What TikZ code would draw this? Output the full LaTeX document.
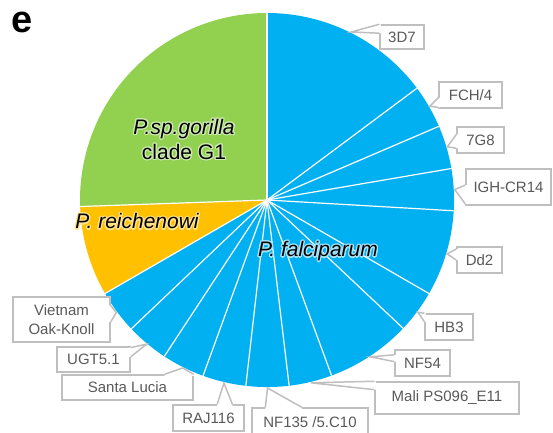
\documentclass[tikz,border=0pt]{standalone}
\usepackage{fontspec}
\setmainfont{Liberation Sans}
\usepackage{contour}
\usetikzlibrary{calc}

\definecolor{pieblue}{HTML}{00B0F0}
\definecolor{piegreen}{HTML}{92D050}
\definecolor{pieorange}{HTML}{FFC000}
\definecolor{boxline}{HTML}{BFBFBF}
\definecolor{boxtext}{HTML}{595959}

% soft halo round the labels in the pie
\contourlength{1.2pt}
\contournumber{16}

\tikzset{
  strainbox/.style={draw=boxline, line width=1.5pt, fill=white, text=boxtext,
    font=\fontsize{15}{19}\selectfont, inner sep=0pt, align=center},
  pielabel/.style={inner sep=0pt, align=center, font=\fontsize{21}{25}\selectfont}
}

% white wedge from the box (base points #1, #2) to the pie (#3), #4 pushes into the box
\newcommand{\pointer}[4]{%
  \fill[white] (#1) -- (#3) -- (#2) -- ($(#2)+(#4)$) -- ($(#1)+(#4)$) -- cycle;
  \draw[boxline, line width=1.5pt] (#1) -- (#3) -- (#2);}
\newcommand{\westpointer}[4]{%
  \coordinate (p1) at ($(#1.north west)!#2!(#1.south west)$);
  \coordinate (p2) at ($(#1.north west)!#3!(#1.south west)$);
  \pointer{p1}{p2}{#4}{1.6,0}}
\newcommand{\eastpointer}[4]{%
  \coordinate (p1) at ($(#1.north east)!#2!(#1.south east)$);
  \coordinate (p2) at ($(#1.north east)!#3!(#1.south east)$);
  \pointer{p1}{p2}{#4}{-1.6,0}}
\newcommand{\northpointer}[4]{%
  \coordinate (p1) at ($(#1.north west)!#2!(#1.north east)$);
  \coordinate (p2) at ($(#1.north west)!#3!(#1.north east)$);
  \pointer{p1}{p2}{#4}{0,-1.6}}

\begin{document}
\begin{tikzpicture}[x=1pt, y=1pt]
\useasboundingbox (0,0) rectangle (553,-432);
% centre of the pie
\coordinate (c) at (267,-200);
% slices
\foreach \a/\b/\col in {90/182/piegreen, 182/210/pieorange, 210/450/pieblue}
  \fill[\col] (c) -- ($(c)+(\a:187)$) arc[start angle=\a, end angle=\b, radius=187] -- cycle;
% white lines between the slices
\foreach \ang in {90,182,210,223.5,236.7,250,263.5,276.8,290.2,316.7,330,356.7,369.7,383.2,396.7}
  \draw[white, line width=1.2pt] (c) -- ($(c)+(\ang:187)$);
% points on the rim where the pointers end
\foreach \m/\n in {63.35/3d7, 29.95/fch, 16.45/7g8, 3.2/igh, -16.65/dd2, -36.65/hb3,
    -56.55/nf54, -76.5/mali, -89.85/nf135, -103.25/raj, -116.65/lucia, -129.9/ugt, -143.25/viet}
  \coordinate (tip-\n) at ($(c)+(\m:188)$);

% labels inside the pie
\node[pielabel] (gorilla) at (184,-140) {\contour{piegreen!45!white}{\itshape P.sp.gorilla}\\\contour{piegreen!45!white}{clade G1}};
\node[pielabel] (reich) at (137,-222) {\contour{pieorange!45!white}{\itshape P. reichenowi}};
\node[pielabel] (falci) at (318,-252) {\contour{pieblue!35!white}{\itshape P. falciparum}};

% strain boxes, right side
\node[strainbox, minimum width=44pt, minimum height=24pt] (3d7) at (402,-37) {3D7};
\westpointer{3d7}{0}{0.35}{tip-3d7}
\node[strainbox, minimum width=63pt, minimum height=26pt] (fch) at (470.5,-95) {FCH/4};
\westpointer{fch}{0.6}{0.95}{tip-fch}
\node[strainbox, minimum width=47pt, minimum height=26pt] (7g8) at (480.5,-140) {7G8};
\westpointer{7g8}{0.3}{0.8}{tip-7g8}
\node[strainbox, minimum width=85pt, minimum height=36pt] (igh) at (508.5,-187) {IGH-CR14};
\westpointer{igh}{0.45}{0.95}{tip-igh}
\node[strainbox, minimum width=45pt, minimum height=26pt] (dd2) at (479.5,-260) {Dd2};
\westpointer{dd2}{0.1}{0.5}{tip-dd2}
\node[strainbox, minimum width=48pt, minimum height=26pt] (hb3) at (449,-327) {HB3};
\westpointer{hb3}{0}{0.3}{tip-hb3}
\node[strainbox, minimum width=55pt, minimum height=26pt] (nf54) at (422.5,-363) {NF54};
\westpointer{nf54}{0.2}{0.45}{tip-nf54}
\node[strainbox, minimum width=144pt, minimum height=32pt] (mali) at (447,-398) {Mali PS096\_E11};
\westpointer{mali}{0}{0.25}{tip-mali}

% strain boxes, bottom and left side
\node[strainbox, minimum width=116pt, minimum height=28pt] (nf135) at (310,-422) {NF135 /5.C10};
\northpointer{nf135}{0.12}{0.43}{tip-nf135}
\node[strainbox, minimum width=71pt, minimum height=26pt] (raj) at (208.5,-418) {RAJ116};
\northpointer{raj}{0.62}{0.83}{tip-raj}
\node[strainbox, minimum width=131pt, minimum height=25pt] (lucia) at (127.5,-387.5) {Santa Lucia};
\northpointer{lucia}{0.78}{1}{tip-lucia}
\node[strainbox, minimum width=73pt, minimum height=25pt] (ugt) at (93.5,-359.5) {UGT5.1};
\eastpointer{ugt}{0.05}{0.4}{tip-ugt}
\node[strainbox, minimum width=97pt, minimum height=45pt] (viet) at (61.5,-319.5) {Vietnam\\Oak-Knoll};
\eastpointer{viet}{0.2}{0.55}{tip-viet}

% panel letter
\node[font=\fontsize{38}{40}\selectfont\bfseries, inner sep=0pt] (panel) at (22.5,-22) {e};
\end{tikzpicture}
\end{document}
